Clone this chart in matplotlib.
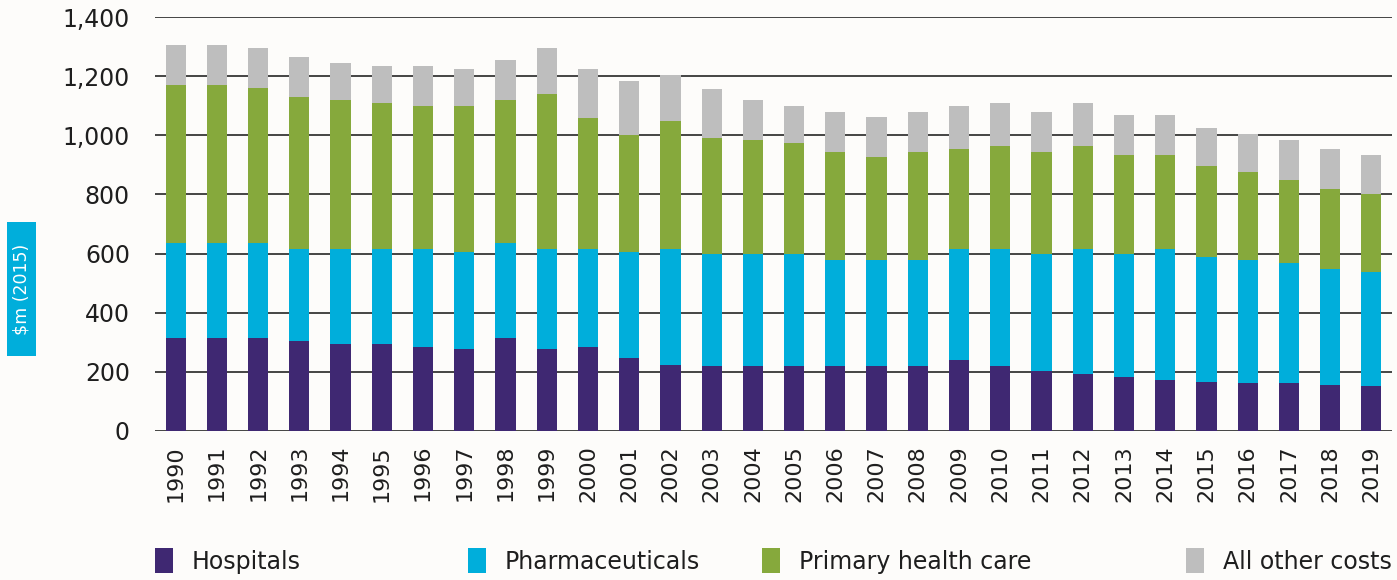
import matplotlib
matplotlib.use("Agg")
import matplotlib.pyplot as plt
from matplotlib.patches import Patch, Rectangle
from matplotlib.ticker import FuncFormatter
import numpy as np

plt.rcParams['font.family'] = ['DejaVu Sans']

years = [str(y) for y in range(1990, 2020)]

# values, $m (2015)
hospitals = [315, 315, 315, 305, 295, 295, 285, 278, 315, 278,
             285, 248, 222, 221, 221, 221, 221, 221, 221, 240,
             221, 202, 193, 182, 173, 165, 163, 163, 155, 153]
pharmaceuticals = [320, 320, 320, 310, 320, 320, 330, 327, 320, 337,
                   330, 357, 393, 376, 376, 376, 357, 357, 357, 377,
                   396, 398, 424, 415, 443, 423, 415, 405, 394, 385]
primary_care = [535, 535, 525, 515, 505, 495, 485, 495, 485, 525,
                445, 395, 435, 395, 386, 376, 366, 347, 366, 337,
                347, 344, 347, 338, 319, 309, 298, 280, 270, 262]
other_costs = [135, 135, 135, 135, 125, 125, 135, 125, 135, 155,
               165, 185, 155, 166, 135, 126, 136, 136, 136, 145,
               144, 136, 144, 135, 135, 126, 130, 135, 135, 135]

labels = ['Hospitals', 'Pharmaceuticals', 'Primary health care', 'All other costs']
colors = ['#3F2872', '#00AEDB', '#86A93C', '#BEBEBE']
series = [hospitals, pharmaceuticals, primary_care, other_costs]

W, H = 1397, 580
bg = '#FDFCFA'
fig = plt.figure(figsize=(W / 100, H / 100), dpi=100, facecolor=bg)
ax = fig.add_axes([155 / W, 1 - 431 / H, (1392 - 155) / W, (431 - 17) / H])
ax.set_facecolor(bg)

x = np.arange(len(years))
bottom = np.zeros(len(years))
for vals, col, lab in zip(series, colors, labels):
    ax.bar(x, vals, width=0.49, bottom=bottom, color=col, label=lab, zorder=3)
    bottom += np.array(vals)

ax.set_ylim(0, 1400)
ax.set_xlim(-0.5, len(years) - 0.5)
ax.set_yticks(range(0, 1401, 200))
ax.yaxis.set_major_formatter(FuncFormatter(lambda v, p: f'{int(v):,}'))
ax.grid(axis='y', color='#444444', linewidth=1.4, zorder=0)
ax.set_axisbelow(True)
for s in ax.spines.values():
    s.set_visible(False)
ax.tick_params(axis='y', length=0, labelsize=17, pad=18, labelcolor='#1e1e1e')
ax.set_xticks(x)
ax.set_xticklabels(years, rotation=90, fontsize=16, color='#1e1e1e')
ax.tick_params(axis='x', length=0, pad=10)

# y label in a coloured box
fig.add_artist(Rectangle((7 / W, 1 - 356 / H), 29 / W, 134 / H, transform=fig.transFigure,
                         facecolor='#00AEDB', edgecolor='none'))
fig.text(21.5 / W, 1 - 289 / H, r'\$m (2015)', rotation=90, ha='center', va='center',
         color='white', fontsize=12.5)

# legend items placed along the bottom
leg_x = [155, 468, 762, 1186]
for lab, col, lx in zip(labels, colors, leg_x):
    lg = fig.legend(handles=[Patch(facecolor=col, label=lab)], loc='center left',
                    bbox_to_anchor=(lx / W, 1 - 561 / H), frameon=False,
                    fontsize=17, handlelength=0.75, handleheight=1.2, handletextpad=0.8,
                    borderpad=0, borderaxespad=0)
    for t in lg.get_texts():
        t.set_color('#1e1e1e')

fig.savefig('out.png', dpi=100, facecolor=bg)
